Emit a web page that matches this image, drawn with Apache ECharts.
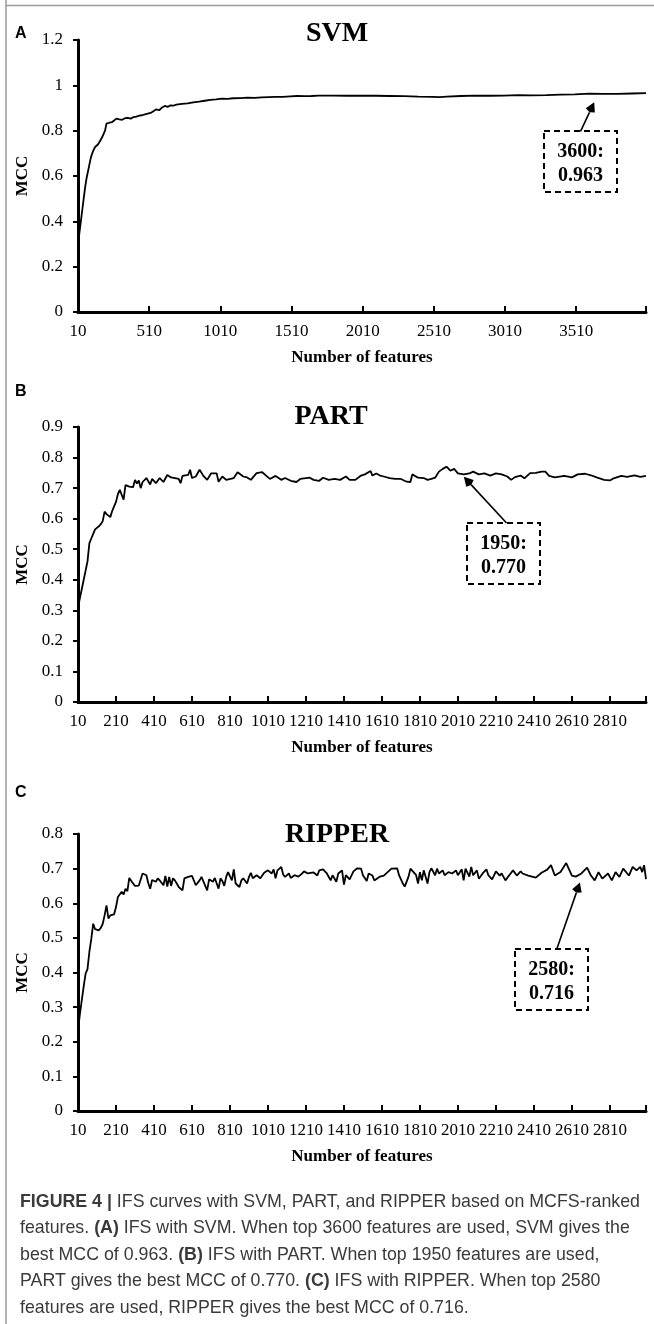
<!DOCTYPE html>
<html><head><meta charset="utf-8">
<script src="https://cdn.jsdelivr.net/npm/echarts@6/dist/echarts.min.js"></script>
<style>html,body{margin:0;padding:0;background:#fff;}#c{width:654px;height:1324px;}</style>
</head><body><div id="c"></div>
<script>
// ---- data: [number of features, MCC] ----
const svmPoints = [[10,0.29],[20,0.35],[30,0.40],[40,0.45],[50,0.50],[60,0.55],[70,0.59],[80,0.62],[90,0.65],[100,0.68],
[110,0.70],[120,0.715],[130,0.728],[140,0.735],[150,0.739],[160,0.745],[170,0.76],[180,0.772],[190,0.775],[200,0.80],
[210,0.831],[220,0.826],[230,0.835],[240,0.84],[250,0.838],[260,0.845],[280,0.853],[300,0.850],[320,0.848],[340,0.855],
[360,0.856],[380,0.853],[400,0.86],[420,0.862],[440,0.866],[460,0.868],[480,0.872],[500,0.875],[520,0.878],[540,0.886],
[560,0.894],[580,0.89],[600,0.902],[620,0.909],[640,0.905],[660,0.912],[680,0.91],[700,0.915],[740,0.918],[780,0.92],
[820,0.925],[860,0.928],[900,0.932],[940,0.936],[980,0.938],[1020,0.941],[1060,0.94],[1100,0.943],[1150,0.944],[1200,0.946],
[1250,0.945],[1300,0.947],[1350,0.948],[1400,0.949],[1450,0.949],[1500,0.951],[1550,0.953],[1600,0.952],[1650,0.953],[1700,0.955],
[1800,0.955],[1900,0.954],[2000,0.955],[2100,0.954],[2200,0.953],[2300,0.952],[2400,0.95],[2500,0.949],[2550,0.948],[2600,0.95],
[2700,0.953],[2800,0.955],[2900,0.954],[3000,0.955],[3100,0.957],[3200,0.956],[3300,0.957],[3400,0.959],[3500,0.96],[3600,0.963],
[3700,0.962],[3800,0.962],[3900,0.964],[4000,0.966]];

const partPoints = [[10,0.31],[20,0.34],[30,0.37],[40,0.40],[50,0.43],[60,0.46],[70,0.52],[80,0.535],[90,0.55],[100,0.565],
[120,0.575],[130,0.582],[140,0.592],[150,0.623],[160,0.615],[170,0.616],[180,0.605],[190,0.625],[200,0.64],[210,0.655],
[220,0.68],[230,0.694],[240,0.69],[250,0.662],[260,0.71],[280,0.705],[300,0.703],[310,0.727],[320,0.715],[330,0.725],
[340,0.70],[350,0.72],[370,0.733],[390,0.712],[400,0.73],[420,0.716],[440,0.733],[460,0.72],[480,0.743],[500,0.735],
[520,0.733],[540,0.73],[550,0.716],[560,0.74],[590,0.743],[600,0.76],[610,0.733],[630,0.738],[650,0.76],[670,0.74],
[690,0.727],[710,0.748],[740,0.748],[750,0.721],[770,0.738],[790,0.727],[830,0.733],[850,0.752],[880,0.738],[900,0.735],
[920,0.727],[950,0.749],[980,0.752],[1000,0.741],[1020,0.73],[1050,0.74],[1080,0.727],[1100,0.733],[1130,0.724],[1160,0.72],
[1180,0.73],[1230,0.734],[1250,0.727],[1280,0.724],[1300,0.734],[1330,0.727],[1360,0.73],[1390,0.727],[1420,0.738],[1440,0.727],
[1470,0.727],[1500,0.741],[1520,0.745],[1550,0.756],[1560,0.741],[1580,0.748],[1600,0.741],[1620,0.738],[1650,0.733],[1680,0.73],
[1710,0.73],[1740,0.721],[1760,0.72],[1770,0.745],[1800,0.734],[1830,0.733],[1850,0.727],[1870,0.73],[1890,0.734],[1910,0.754],
[1930,0.763],[1950,0.770],[1970,0.757],[1990,0.763],[2010,0.748],[2040,0.745],[2070,0.748],[2090,0.754],[2120,0.745],[2150,0.748],
[2180,0.741],[2210,0.748],[2240,0.745],[2270,0.738],[2290,0.727],[2310,0.736],[2340,0.741],[2360,0.732],[2390,0.749],[2420,0.75],
[2450,0.754],[2470,0.754],[2490,0.74],[2520,0.735],[2570,0.74],[2610,0.735],[2640,0.745],[2680,0.747],[2710,0.742],[2740,0.735],
[2780,0.727],[2810,0.725],[2830,0.732],[2870,0.74],[2900,0.737],[2940,0.742],[2970,0.737],[3000,0.74]];

const ripperPoints = [[10,0.235],[20,0.28],[30,0.32],[40,0.36],[50,0.397],[60,0.41],[70,0.46],[80,0.497],[90,0.541],[100,0.525],
[110,0.52],[120,0.522],[130,0.529],[140,0.54],[150,0.565],[160,0.594],[170,0.556],[180,0.565],[190,0.57],[200,0.568],
[210,0.589],[220,0.618],[230,0.622],[240,0.633],[250,0.625],[260,0.642],[270,0.635],[280,0.673],[290,0.665],[300,0.66],
[310,0.65],[330,0.651],[350,0.686],[370,0.681],[380,0.658],[390,0.642],[400,0.667],[420,0.662],[430,0.672],[440,0.666],
[450,0.661],[460,0.652],[470,0.679],[480,0.648],[490,0.676],[500,0.65],[510,0.672],[520,0.666],[530,0.657],[540,0.647],
[560,0.637],[570,0.672],[590,0.676],[600,0.672],[610,0.679],[630,0.652],[650,0.666],[660,0.676],[680,0.65],[690,0.637],
[700,0.669],[720,0.662],[730,0.673],[750,0.642],[760,0.672],[770,0.664],[780,0.65],[790,0.676],[800,0.69],[820,0.666],
[830,0.698],[840,0.657],[860,0.647],[870,0.666],[880,0.672],[900,0.657],[910,0.676],[920,0.688],[930,0.672],[950,0.681],
[970,0.672],[980,0.673],[990,0.688],[1010,0.695],[1030,0.686],[1040,0.698],[1050,0.672],[1060,0.695],[1080,0.705],[1090,0.683],
[1100,0.676],[1120,0.686],[1130,0.673],[1150,0.681],[1170,0.677],[1190,0.686],[1200,0.692],[1220,0.686],[1250,0.689],[1270,0.68],
[1280,0.695],[1300,0.698],[1320,0.686],[1340,0.666],[1350,0.681],[1370,0.662],[1380,0.686],[1400,0.695],[1410,0.654],[1420,0.681],
[1440,0.669],[1460,0.692],[1480,0.701],[1500,0.70],[1510,0.681],[1530,0.664],[1540,0.686],[1560,0.68],[1570,0.666],[1600,0.677],
[1620,0.68],[1640,0.69],[1660,0.70],[1670,0.695],[1690,0.701],[1700,0.681],[1720,0.657],[1730,0.648],[1750,0.677],[1760,0.70],
[1770,0.705],[1790,0.681],[1800,0.657],[1810,0.69],[1820,0.666],[1830,0.695],[1850,0.657],[1860,0.69],[1870,0.701],[1890,0.681],
[1900,0.70],[1910,0.686],[1930,0.695],[1940,0.681],[1960,0.69],[1980,0.686],[2000,0.695],[2010,0.681],[2030,0.698],[2040,0.666],
[2050,0.70],[2070,0.677],[2080,0.705],[2090,0.681],[2110,0.695],[2120,0.671],[2140,0.686],[2160,0.698],[2170,0.681],[2190,0.669],
[2210,0.692],[2230,0.68],[2240,0.686],[2260,0.666],[2280,0.681],[2300,0.695],[2320,0.68],[2340,0.692],[2350,0.686],[2380,0.68],
[2420,0.674],[2450,0.688],[2480,0.697],[2500,0.71],[2520,0.68],[2550,0.69],[2580,0.716],[2610,0.68],[2630,0.677],[2660,0.686],
[2690,0.703],[2710,0.68],[2730,0.666],[2750,0.69],[2770,0.671],[2800,0.686],[2820,0.666],[2840,0.69],[2860,0.676],[2880,0.70],
[2910,0.68],[2930,0.705],[2950,0.695],[2970,0.705],[2980,0.69],[2990,0.71],[3000,0.67]];

// tick labels
const xTicksA = [10,510,1010,1510,2010,2510,3010,3510];
const xTicksBC = [10,210,410,610,810,1010,1210,1410,1610,1810,2010,2210,2410,2610,2810];
const panelTitles = ['SVM','PART','RIPPER'];
const panelLetters = ['A','B','C'];
const bestLabels = [['3600:','0.963'],['1950:','0.770'],['2580:','0.716']];
// annotation arrows in data coordinates: [from, to]
const arrowCoords = [
  [[3540,0.797],[3636,0.925]],
  [[2266,0.586],[2041,0.737]],
  [[2530,0.467],[2652,0.66]]
];

const serif = 'Liberation Serif, Times New Roman, serif';
const sans = 'Liberation Sans, Arial, sans-serif';

const grids = [
  {left:78, top:40, width:568, height:272},
  {left:78, top:427, width:568, height:275},
  {left:78, top:834, width:568, height:277}
];
const xMax = [4000, 3000, 3000];
const yMax = [1.2, 0.9, 0.8];
const yInt = [0.2, 0.1, 0.1];
const xTicks = [xTicksA, xTicksBC, xTicksBC];
const pts = [svmPoints, partPoints, ripperPoints];

const xAxes = [], yAxes = [], series = [];
for (let i = 0; i < 3; i++) {
  xAxes.push({
    type:'value', gridIndex:i, min:10, max:xMax[i],
    axisLine:{show:true, onZero:false, lineStyle:{color:'#000', width:3}},
    axisTick:{show:true, inside:true, length:6, lineStyle:{color:'#000', width:2}, customValues: xTicks[i].concat([xMax[i]])},
    axisLabel:{customValues: xTicks[i], formatter: v => String(v), fontFamily:serif, fontSize:17, color:'#000', margin:11},
    splitLine:{show:false},
    name:'Number of features', nameLocation:'middle', nameGap:37,
    nameTextStyle:{fontFamily:serif, fontWeight:'bold', fontSize:17, color:'#000'}
  });
  yAxes.push({
    type:'value', gridIndex:i, min:0, max:yMax[i], interval:yInt[i],
    axisLine:{show:true, lineStyle:{color:'#000', width:3}},
    axisTick:{show:true, inside:false, length:5, lineStyle:{color:'#000', width:2}},
    axisLabel:{fontFamily:serif, fontSize:17, color:'#000', margin:15},
    splitLine:{show:false},
    name:'MCC', nameLocation:'middle', nameGap:42, nameRotate:90,
    nameTextStyle:{fontFamily:serif, fontWeight:'bold', fontSize:17, color:'#000'}
  });
  series.push({
    type:'line', xAxisIndex:i, yAxisIndex:i, data:pts[i], symbol:'none', smooth:false,
    lineStyle:{color:'#000', width:1.8}, animation:false, silent:true
  });
}

const chart = echarts.init(document.getElementById('c'), null, {renderer:'canvas'});
chart.setOption({
  backgroundColor:'#fff',
  animation:false,
  grid: grids,
  xAxis: xAxes,
  yAxis: yAxes,
  series: series
});

const graphics = [];
// frame lines
graphics.push({type:'line', shape:{x1:6, y1:0, x2:6, y2:1324}, style:{stroke:'#9a9a9a', lineWidth:1.5}, z:100});
graphics.push({type:'line', shape:{x1:6, y1:5.5, x2:654, y2:5.5}, style:{stroke:'#9a9a9a', lineWidth:1.5}, z:100});
// titles and panel letters
const titlePos = [[337,34],[331,417],[337,835]];
const letterPos = [[15,34],[15,392],[15,793]];
for (let i = 0; i < 3; i++) {
  graphics.push({type:'text', x:titlePos[i][0], y:titlePos[i][1], style:{text:panelTitles[i], font:'bold 28px '+serif, fill:'#000', textAlign:'center', textVerticalAlign:'middle'}});
  graphics.push({type:'text', x:letterPos[i][0], y:letterPos[i][1], style:{text:panelLetters[i], font:'bold 16px '+sans, fill:'#000', textAlign:'left', textVerticalAlign:'middle'}});
}
// annotation boxes
const boxes = [[544,131],[467,523],[515,949]];
for (let i = 0; i < 3; i++) {
  const bx = boxes[i][0], by = boxes[i][1];
  graphics.push({type:'rect', shape:{x:bx, y:by, width:73, height:61}, style:{fill:'#fff', stroke:'#000', lineWidth:2, lineDash:[6,4]}, z:50});
  graphics.push({type:'text', x:bx+36.5, y:by+21, z:51, style:{text:bestLabels[i][0], font:'bold 20px '+serif, fill:'#000', textAlign:'center', textVerticalAlign:'middle'}});
  graphics.push({type:'text', x:bx+36.5, y:by+45, z:51, style:{text:bestLabels[i][1], font:'bold 20px '+serif, fill:'#000', textAlign:'center', textVerticalAlign:'middle'}});
}
// arrows (positioned through the axes' own scales)
for (let i = 0; i < 3; i++) {
  const p1 = chart.convertToPixel({xAxisIndex:i, yAxisIndex:i}, arrowCoords[i][0]);
  const p2 = chart.convertToPixel({xAxisIndex:i, yAxisIndex:i}, arrowCoords[i][1]);
  const dx = p2[0]-p1[0], dy = p2[1]-p1[1], L = Math.hypot(dx, dy);
  const ux = dx/L, uy = dy/L, nx = -uy, ny = ux;
  const hl = 11, hw = 5;
  const bx = p2[0]-ux*hl, by = p2[1]-uy*hl;
  graphics.push({type:'line', z:60, shape:{x1:p1[0], y1:p1[1], x2:bx, y2:by}, style:{stroke:'#000', lineWidth:1.6}});
  graphics.push({type:'polygon', z:60, shape:{points:[[p2[0],p2[1]],[bx+nx*hw+ux*2,by+ny*hw+uy*2],[bx,by],[bx-nx*hw+ux*2,by-ny*hw+uy*2]]}, style:{fill:'#000'}});
}
// caption
const captionLines = [
  '{b|FIGURE 4 |} IFS curves with SVM, PART, and RIPPER based on MCFS-ranked',
  'features. {b|(A)} IFS with SVM. When top 3600 features are used, SVM gives the',
  'best MCC of 0.963. {b|(B)} IFS with PART. When top 1950 features are used,',
  'PART gives the best MCC of 0.770. {b|(C)} IFS with RIPPER. When top 2580',
  'features are used, RIPPER gives the best MCC of 0.716.'
];
const capY = [1202, 1228.5, 1255, 1281.5, 1308];
captionLines.forEach((t, k) => {
  graphics.push({type:'text', x:20, y:capY[k], style:{text:t, fontFamily:sans, fontSize:17.8, fill:'#3a3a3a', textAlign:'left', textVerticalAlign:'middle',
    rich:{b:{fontFamily:sans, fontSize:17.8, fontWeight:'bold', fill:'#3a3a3a'}}}});
});
chart.setOption({graphic: graphics});
</script>
</body></html>
